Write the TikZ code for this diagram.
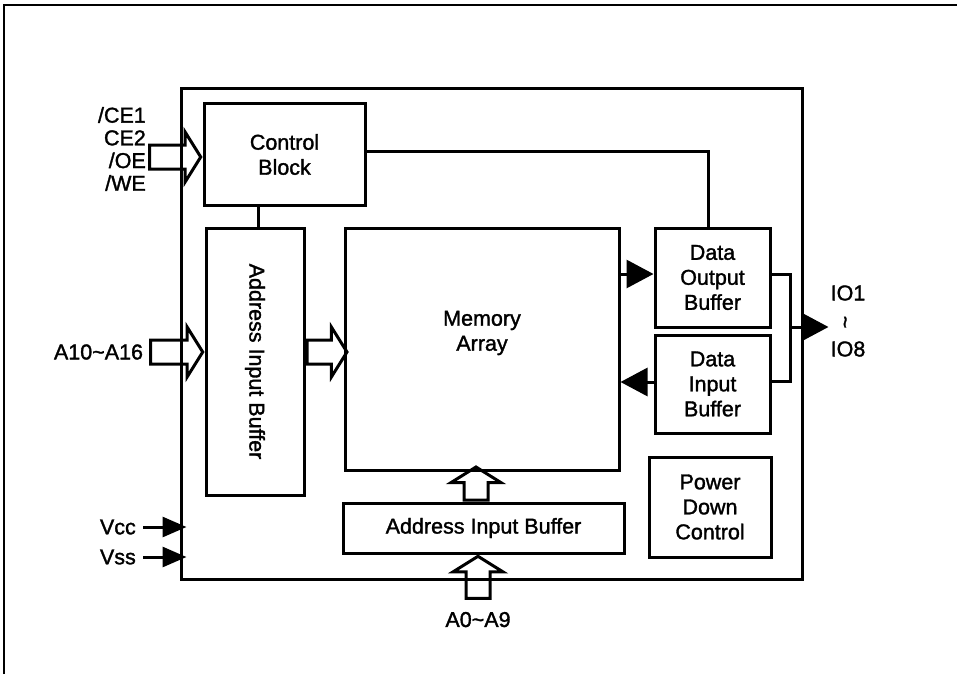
\documentclass[tikz,border=0pt]{standalone}
\usepackage{fontspec}
\setmainfont[FakeBold=1.5]{Liberation Sans}
\usetikzlibrary{positioning,shapes.arrows,arrows.meta}
\tikzset{
  blk/.style={draw, line width=3pt, align=center, inner sep=0pt},
  bus/.style={single arrow, draw, line width=3pt, inner xsep=0pt, inner ysep=10.5pt,
    single arrow head extend=13pt, single arrow tip angle=116},
  vbus/.style={bus, shape border rotate=90, inner xsep=10.5pt, inner ysep=0pt},
  sig/.style={line width=3pt, -{Triangle[length=27pt,width=28pt]}},
  pin/.style={line width=3pt, -{Triangle[length=24pt,width=20pt]}},
  wire/.style={line width=3pt}
}
\begin{document}
\begin{tikzpicture}[x=1pt,y=-1pt,
    every node/.style={font=\fontsize{21.5}{25}\selectfont}]
    \useasboundingbox (0,0) rectangle (957,674);
    % page frame
    \draw[line width=2.2pt] (4,674) -- (4,5) -- (957,5);
    % blocks
    \node (chip) [blk, minimum width=621pt, minimum height=490pt] at (491.5,334) {};
    \node (ctrl) [blk, minimum width=161pt, minimum height=101pt] at (284.5,154.5)
        {\fontsize{21.5}{23}\selectfont Control\\Block};
    \node (aib) [blk, minimum width=98pt, minimum height=267pt] at (255,361.5)
        {\rotatebox{-90}{Address Input Buffer}};
    \node (mem) [blk, minimum width=274pt, minimum height=242pt] at (482,349) {};
    \node (memtxt) [align=center] at ([yshift=16pt]mem.center) {Memory\\Array};
    \node (dob) [blk, minimum width=115pt, minimum height=99pt] at (712.5,277.5)
        {Data\\Output\\Buffer};
    \node (dib) [blk, minimum width=115pt, minimum height=98pt] at (712.5,384)
        {Data\\Input\\Buffer};
    \node (pdc) [blk, minimum width=122pt, minimum height=100pt] at (710,507)
        {Power\\Down\\Control};
    \node (aib2) [blk, minimum width=281pt, minimum height=50pt] at (483.5,528)
        {Address Input Buffer};
    % wires
    \draw[wire] ([yshift=3.5pt]ctrl.east) -| ([xshift=-4.5pt]dob.north);
    \draw[wire] ([xshift=3pt]aib.north) -- ([xshift=3pt]aib.north |- ctrl.south);
    \draw[sig] ([yshift=3.5pt]dob.west -| mem.east) -- ([yshift=3.5pt]dob.west);
    \draw[sig] ([yshift=2pt]dib.west) -- ([yshift=2pt]dib.west -| mem.east);
    \coordinate (bustop) at (790,274);
    \coordinate (busbot) at (790,381);
    \coordinate (busmid) at (790,327);
    \draw[wire] (dob.east |- bustop) -- (bustop) -- (busbot) -- (dib.east |- busbot);
    \node (io) [align=center, inner sep=2pt, font=\fontsize{21.5}{28}\selectfont]
        at (848,321) {IO1\\\rotatebox{90}{\textasciitilde}\\IO8};
    \draw[sig] (busmid) -- (io.west |- busmid);
    % bus arrows
    \node (cebus) [bus, minimum height=51pt, anchor=tip] at ([yshift=-2.5pt]ctrl.west) {};
    \node (cesig) [align=right, anchor=east, inner sep=0pt,
        font=\fontsize{21.5}{22.7}\selectfont] at (146,149) {/CE1\\CE2\\/OE\\/WE};
    \node (abus) [bus, minimum height=52pt, anchor=tip] at ([yshift=9.5pt]aib.west) {};
    \node (ahi) [left=6pt of abus.tail, inner sep=0pt] {A10\textasciitilde A16};
    \node (arbus) [bus, minimum height=40pt, anchor=tail] at ([yshift=9.5pt]aib.east) {};
    \node (mbus) [vbus, minimum height=33pt, anchor=tail]
        at ([xshift=-7.5pt]aib2.north) {};
    \node (a0bus) [vbus, minimum height=42pt, anchor=tip]
        at ([xshift=-5.5pt]aib2.south) {};
    \node (alo) [below=12pt of a0bus.tail, inner sep=0pt] {A0\textasciitilde A9};
    % supply pins
    \node (vcc) [anchor=east, inner sep=0pt] at (136,527) {Vcc};
    \node (vss) [anchor=east, inner sep=0pt] at (136,557) {Vss};
    \draw[pin] ([xshift=7pt]vcc.east) -- ([xshift=7pt]vcc.east -| chip.west);
    \draw[pin] ([xshift=7pt]vss.east) -- ([xshift=7pt]vss.east -| chip.west);
\end{tikzpicture}
\end{document}
